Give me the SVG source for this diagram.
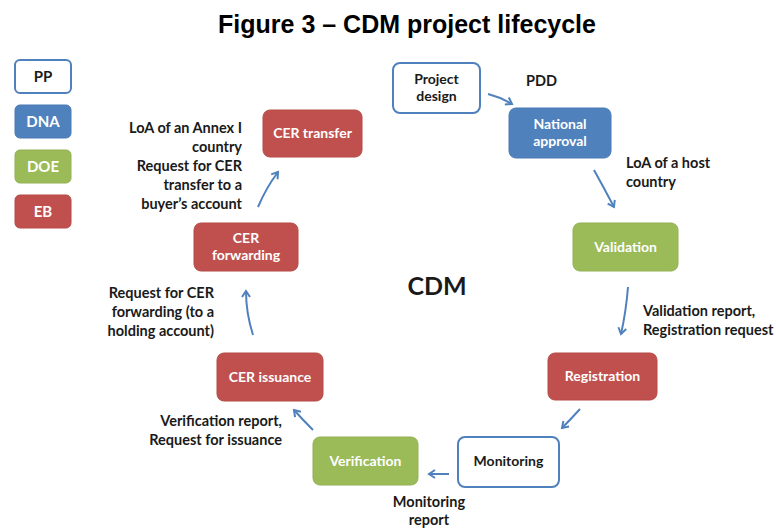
<svg xmlns="http://www.w3.org/2000/svg" width="776" height="528" viewBox="0 0 776 528">
<defs>
<marker id="ah" markerWidth="10" markerHeight="10" refX="7" refY="5" orient="auto" markerUnits="userSpaceOnUse">
<path d="M1,1 L7,5 L1,9" fill="none" stroke="#4F81BD" stroke-width="2"/>
</marker>
</defs>
<style>
.t{font-family:Lato,"Liberation Sans",sans-serif;font-weight:bold;font-size:14.5px;fill:#1a1a1a}
.n{font-size:14px}
.w{fill:#fff;text-anchor:middle}
.k{fill:#1a1a1a;text-anchor:middle}
.lg{font-size:15px}
.pp{fill:#fff;stroke:#4F81BD;stroke-width:2}
.dna{fill:#4F81BD;stroke:#4A7AB5;stroke-width:1}
.doe{fill:#9BBB59;stroke:#92B153;stroke-width:1}
.eb{fill:#C0504D;stroke:#B54A47;stroke-width:1}
.c{fill:none;stroke:#4F81BD;stroke-width:2;marker-end:url(#ah)}
.r{text-anchor:end}
</style>
<rect width="776" height="528" fill="#fff"/>
<text x="407" y="33" text-anchor="middle" style="font-family:'Liberation Sans',Arial,sans-serif;font-weight:bold;font-size:25px;fill:#000">Figure 3 – CDM project lifecycle</text>

<g id="legend">
<g id="legend-pp"><rect class="pp" x="15" y="60" width="56" height="33" rx="5"/><text class="t k lg" x="43" y="82">PP</text></g>
<g id="legend-dna"><rect class="dna" x="15" y="105" width="56" height="33" rx="5"/><text class="t w lg" x="43" y="127">DNA</text></g>
<g id="legend-doe"><rect class="doe" x="15" y="150" width="56" height="33" rx="5"/><text class="t w lg" x="43" y="172">DOE</text></g>
<g id="legend-eb"><rect class="eb" x="15" y="195" width="56" height="33" rx="5"/><text class="t w lg" x="43" y="217">EB</text></g>
</g>

<text class="t" x="437" y="295" text-anchor="middle" style="font-size:25px">CDM</text>

<g id="project-design"><rect class="pp" x="393" y="63" width="87" height="50" rx="7"/><text class="t n k" x="436.5" y="84">Project</text><text class="t n k" x="436.5" y="101">design</text></g>
<g id="national-approval"><rect class="dna" x="509" y="108" width="102" height="50" rx="7"/><text class="t n w" x="560" y="129">National</text><text class="t n w" x="560" y="146">approval</text></g>
<g id="validation"><rect class="doe" x="573" y="223" width="105" height="48" rx="7"/><text class="t n w" x="625.5" y="252">Validation</text></g>
<g id="registration"><rect class="eb" x="548" y="353" width="109" height="47" rx="7"/><text class="t n w" x="602.5" y="381">Registration</text></g>
<g id="monitoring"><rect class="pp" x="458" y="437" width="101" height="50" rx="7"/><text class="t n k" x="508.5" y="466">Monitoring</text></g>
<g id="verification"><rect class="doe" x="313" y="437" width="105" height="48" rx="7"/><text class="t n w" x="365.5" y="466">Verification</text></g>
<g id="cer-issuance"><rect class="eb" x="217" y="353" width="106" height="48" rx="7"/><text class="t n w" x="270" y="382">CER issuance</text></g>
<g id="cer-forwarding"><rect class="eb" x="194" y="223" width="104" height="48" rx="7"/><text class="t n w" x="246" y="243">CER</text><text class="t n w" x="246" y="260">forwarding</text></g>
<g id="cer-transfer"><rect class="eb" x="263" y="110" width="99" height="47" rx="7"/><text class="t n w" x="312.5" y="138">CER transfer</text></g>

<g id="connectors">
<path class="c" d="M488,94 Q500,97 512,104"/>
<path class="c" d="M594,170 Q604,188 614,207"/>
<path class="c" d="M628,287 Q626,312 621,334"/>
<path class="c" d="M580,409 Q571,419 562,428"/>
<path class="c" d="M449,474 L429,474"/>
<path class="c" d="M313,430 Q303,420 294,410"/>
<path class="c" d="M253,335 Q246,313 246,291"/>
<path class="c" d="M258,207 Q266,188 278,172"/>
</g>

<g id="labels">
<text class="t" x="526" y="86">PDD</text>
<text class="t" x="626" y="168">LoA of a host</text>
<text class="t" x="626" y="187">country</text>
<text class="t" x="643" y="316">Validation report,</text>
<text class="t" x="643" y="335">Registration request</text>
<text class="t" x="429" y="507" text-anchor="middle">Monitoring</text>
<text class="t" x="429" y="525" text-anchor="middle">report</text>
<text class="t r" x="282" y="426">Verification report,</text>
<text class="t r" x="282" y="445">Request for issuance</text>
<text class="t r" x="214" y="298">Request for CER</text>
<text class="t r" x="214" y="317">forwarding (to a</text>
<text class="t r" x="214" y="336">holding account)</text>
<text class="t r" x="242" y="133">LoA of an Annex I</text>
<text class="t r" x="242" y="152">country</text>
<text class="t r" x="242" y="171">Request for CER</text>
<text class="t r" x="242" y="190">transfer to a</text>
<text class="t r" x="242" y="209">buyer’s account</text>
</g>
</svg>
